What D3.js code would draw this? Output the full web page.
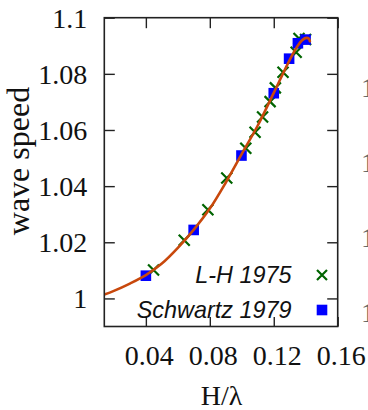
<!DOCTYPE html>
<html>
<head>
<meta charset="utf-8">
<script src="https://cdn.jsdelivr.net/npm/d3@7"></script>
<style>
  html, body { margin: 0; padding: 0; background: #fff; }
  svg { display: block; }
</style>
</head>
<body>
<svg id="chart" width="368" height="410"></svg>
<script>
// ---- data ----
const curveX = [0.014, 0.02, 0.03, 0.04, 0.05, 0.06, 0.07, 0.08, 0.09, 0.10, 0.11, 0.12, 0.13, 0.135, 0.138, 0.1405, 0.1420, 0.1426];
const curveY = [1.0014, 1.0027, 1.0053, 1.0083, 1.0124, 1.0180, 1.0245, 1.0320, 1.0413, 1.0515, 1.0616, 1.0732, 1.0850, 1.0900, 1.0921, 1.0928, 1.0925, 1.0916];

const lhX = [0.0448, 0.0640, 0.0788, 0.0906, 0.1025, 0.1083, 0.1130, 0.1177, 0.1210, 0.1258, 0.1340, 0.1358, 0.1399];
const lhY = [1.0101, 1.0207, 1.0316, 1.0429, 1.0535, 1.0592, 1.0646, 1.0701, 1.0750, 1.0806, 1.0877, 1.0926, 1.0922];

const swX = [0.0400, 0.0699, 0.0998, 0.1200, 0.1296, 0.1351, 0.1399];
const swY = [1.0081, 1.0244, 1.0509, 1.0731, 1.0854, 1.0909, 1.0922];

const xTicks = [0.04, 0.08, 0.12, 0.16];
const xTickLabels = ["0.04", "0.08", "0.12", "0.16"];
const yTicks = [1.0, 1.02, 1.04, 1.06, 1.08, 1.1];
const yTickLabels = ["1", "1.02", "1.04", "1.06", "1.08", "1.1"];
const legendLabels = ["L-H 1975", "Schwartz 1979"];
const xLabel = "H/λ";
const yLabel = "wave speed";
const strayLabels = ["1", "1", "1", "1"];

// ---- layout ----
const L = 104.3, R = 337.7, T = 17.7, B = 326.5;
const svg = d3.select("#chart");
const x = d3.scaleLinear().domain([0.014, 0.16]).range([L, R]);
const y = d3.scaleLinear().domain([0.99, 1.1]).range([B, T]);

const serif = "'Liberation Serif', 'Times New Roman', serif";
const sans = "'Liberation Sans', Arial, sans-serif";

svg.append("defs").append("clipPath").attr("id", "plotclip")
  .append("rect").attr("x", L).attr("y", T).attr("width", R - L).attr("height", B - T);

// axes
const gl = svg.append("g").attr("transform", `translate(${L},0)`)
  .call(d3.axisLeft(y).tickValues(yTicks).tickSizeInner(-10.5).tickSizeOuter(0).tickPadding(17)
    .tickFormat((d, i) => yTickLabels[i]));
const gr = svg.append("g").attr("transform", `translate(${R},0)`)
  .call(d3.axisRight(y).tickValues(yTicks).tickSizeInner(-10.5).tickSizeOuter(0).tickFormat(""));
const gb = svg.append("g").attr("transform", `translate(0,${B})`)
  .call(d3.axisBottom(x).tickValues(xTicks).tickSizeInner(-9.5).tickSizeOuter(0).tickPadding(18.5)
    .tickFormat((d, i) => xTickLabels[i]));
const gt = svg.append("g").attr("transform", `translate(0,${T})`)
  .call(d3.axisTop(x).tickValues(xTicks).tickSizeInner(-10.5).tickSizeOuter(0).tickFormat(""));

[gl, gr, gb, gt].forEach(g => {
  g.select(".domain").remove();
  g.selectAll(".tick line").attr("stroke", "#222").attr("stroke-width", 1.4);
  g.selectAll(".tick text").attr("font-family", serif).attr("font-size", 28).attr("fill", "#111");
});
gl.selectAll(".tick text").attr("dy", "0.34em");
gb.selectAll(".tick text").attr("dx", 3);

// legend
const legY = [275, 310];
const lg = svg.append("g");
lg.selectAll("text").data(legendLabels).join("text")
  .attr("x", 291.5).attr("y", (d, i) => legY[i]).attr("dy", "0.36em")
  .attr("text-anchor", "end")
  .attr("font-family", sans).attr("font-style", "italic").attr("font-size", 23.4)
  .attr("fill", "#111").text(d => d);
lg.append("path")
  .attr("d", `M${322 - 5},${legY[0] - 5}L${322 + 5},${legY[0] + 5}M${322 - 5},${legY[0] + 5}L${322 + 5},${legY[0] - 5}`)
  .attr("stroke", "#006400").attr("stroke-width", 2.2).attr("fill", "none");
lg.append("rect").attr("x", 322 - 5.3).attr("y", legY[1] - 5.3).attr("width", 10.6).attr("height", 10.6)
  .attr("fill", "#0000ff");

// data marks
const plot = svg.append("g").attr("clip-path", "url(#plotclip)");
const lh = lhX.map((v, i) => [v, lhY[i]]);
const sw = swX.map((v, i) => [v, swY[i]]);
const cv = curveX.map((v, i) => [v, curveY[i]]);

plot.selectAll("path.lh").data(lh).join("path").attr("class", "lh")
  .attr("d", d => { const px = x(d[0]), py = y(d[1]); return `M${px - 5.5},${py - 5.5}L${px + 5.5},${py + 5.5}M${px - 5.5},${py + 5.5}L${px + 5.5},${py - 5.5}`; })
  .attr("stroke", "#006400").attr("stroke-width", 2.2).attr("fill", "none");

plot.selectAll("rect.sw").data(sw).join("rect").attr("class", "sw")
  .attr("x", d => x(d[0]) - 5.3).attr("y", d => y(d[1]) - 5.3)
  .attr("width", 10.6).attr("height", 10.6).attr("fill", "#0000ff");

plot.append("path").datum(cv)
  .attr("d", d3.line().x(d => x(d[0])).y(d => y(d[1])).curve(d3.curveCatmullRom.alpha(0.5)))
  .attr("fill", "none").attr("stroke", "#c8480c").attr("stroke-width", 2.6)
  .attr("stroke-linecap", "round").attr("stroke-linejoin", "round");

// border
svg.append("rect").attr("x", L).attr("y", T).attr("width", R - L).attr("height", B - T)
  .attr("fill", "none").attr("stroke", "#222").attr("stroke-width", 1.6);

// axis labels
svg.append("text").attr("x", (L + R) / 2 + 0.5).attr("y", 404.5).attr("text-anchor", "middle")
  .attr("font-family", serif).attr("font-size", 28).attr("fill", "#111").text(xLabel);
svg.append("text").attr("transform", `translate(29,161) rotate(-90)`).attr("text-anchor", "middle")
  .attr("font-family", serif).attr("font-size", 32).attr("fill", "#111").text(yLabel);

// clipped labels of the neighbouring panel at the right edge
const strayY = [87, 162, 237, 312];
svg.selectAll("text.stray").data(strayLabels).join("text").attr("class", "stray")
  .attr("x", 361).attr("y", (d, i) => strayY[i]).attr("dy", "0.34em")
  .attr("font-family", serif).attr("font-size", 28).attr("fill", "#666").text(d => d);
</script>
</body>
</html>
